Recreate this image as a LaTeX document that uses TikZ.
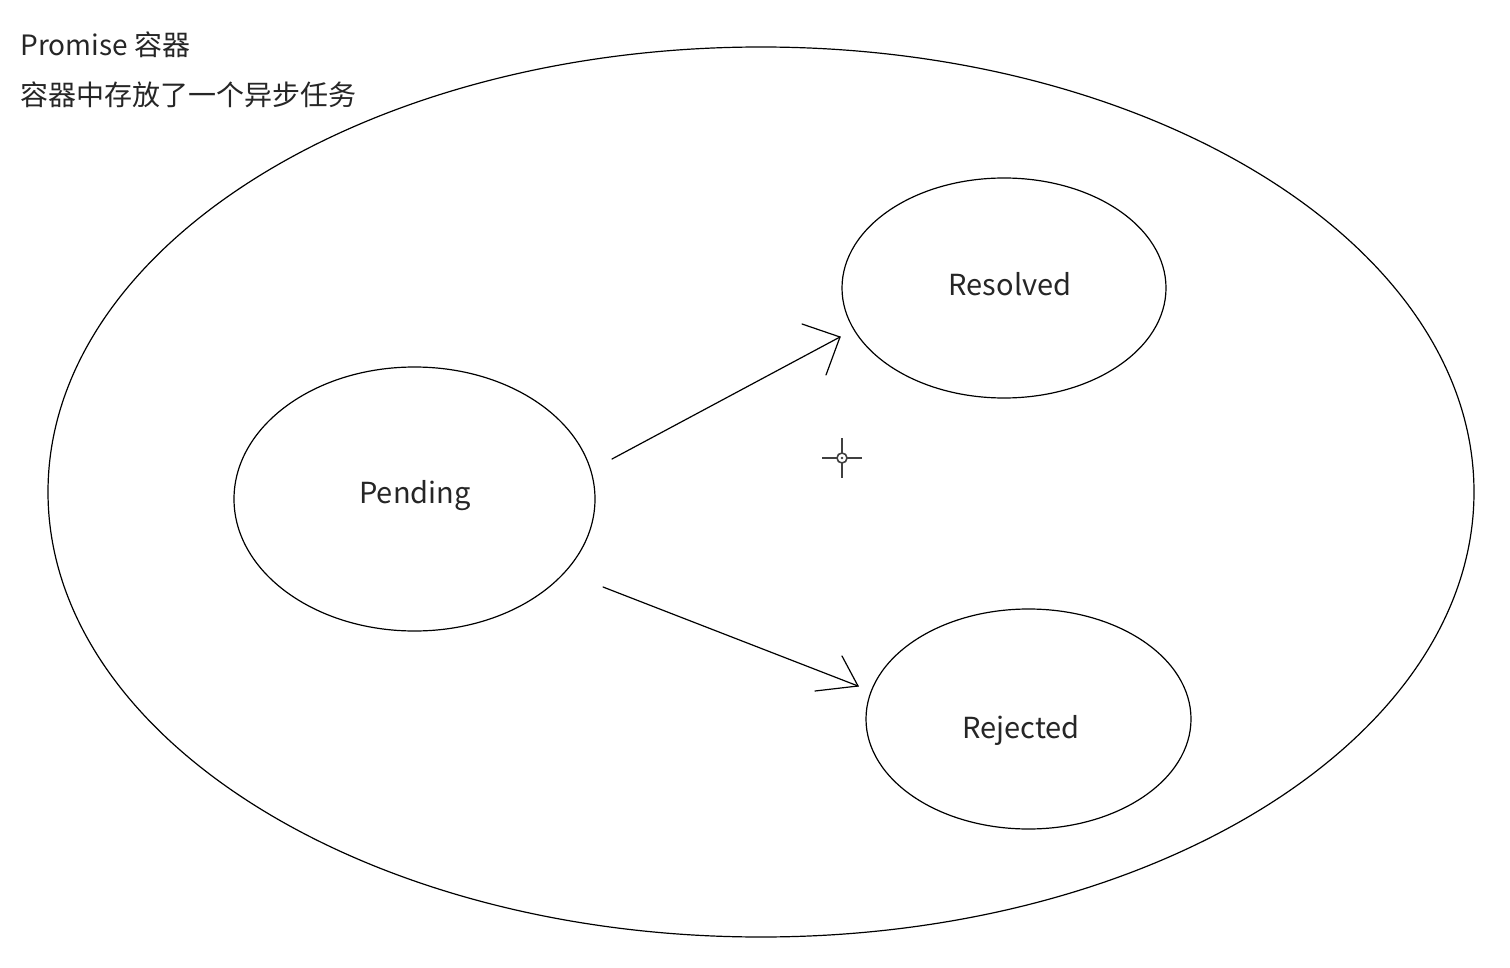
\documentclass[tikz,border=0pt]{standalone}
\usepackage{fontspec}
\setmainfont{Noto Sans CJK SC}
\usetikzlibrary{shapes.geometric}
\begin{document}
\begin{tikzpicture}[x=1pt,y=-1pt,
  line width=1.2pt,
  txt/.style={font=\fontsize{28}{33}\selectfont, text=black!85},
  lbl/.style={font=\fontsize{29}{34}\selectfont, text=black!85, inner sep=0pt},
  state/.style={draw, ellipse, inner sep=0pt},
  arrowline/.style={draw, line width=1.2pt, line cap=round}]
\useasboundingbox (0,0) rectangle (1510,968);
\fill[white] (0,0) rectangle (1510,968);
% container
\node[draw, ellipse, inner sep=0pt, minimum width=1426pt, minimum height=890pt] (box) at (761,492) {};
% title texts
\node[txt, anchor=west, inner sep=0pt] (t1) at (20,45) {Promise 容器};
\node[txt, anchor=west, inner sep=0pt] (t2) at (20,95) {容器中存放了一个异步任务};
% states
\node[state, minimum width=361pt, minimum height=264pt] (pending) at (414.5,499) {};
\node[state, minimum width=324pt, minimum height=220pt] (resolved) at (1004,288) {};
\node[state, minimum width=325pt, minimum height=220pt] (rejected) at (1028.5,719) {};
\node[lbl] (pendinglbl) at (415,496) {Pending};
\node[lbl] (resolvedlbl) at (1010,284) {Resolved};
\node[lbl] (rejectedlbl) at (1021,730) {Rejected};
% arrow 1
\coordinate (a1s) at (612,459);
\coordinate (a1t) at (840,337);
\coordinate (a1u) at (802,324);
\coordinate (a1l) at (826,375);
\draw[arrowline] (a1s) -- (a1t);
\draw[arrowline] (a1u) -- (a1t) -- (a1l);
% arrow 2
\coordinate (a2s) at (603,587);
\coordinate (a2t) at (858,686);
\coordinate (a2u) at (842,656);
\coordinate (a2l) at (815,691);
\draw[arrowline] (a2s) -- (a2t);
\draw[arrowline] (a2u) -- (a2t) -- (a2l);
% cursor crosshair
\coordinate (cc) at (842,458);
\draw[line width=1.6pt, black!75] (cc) circle[radius=5pt];
\fill[black!75] (cc) circle[radius=1.3pt];
\draw[line width=1.6pt, black!75] (822,458) -- (837,458) (847,458) -- (862,458)
  (842,438) -- (842,453) (842,463) -- (842,478);
\end{tikzpicture}
\end{document}
